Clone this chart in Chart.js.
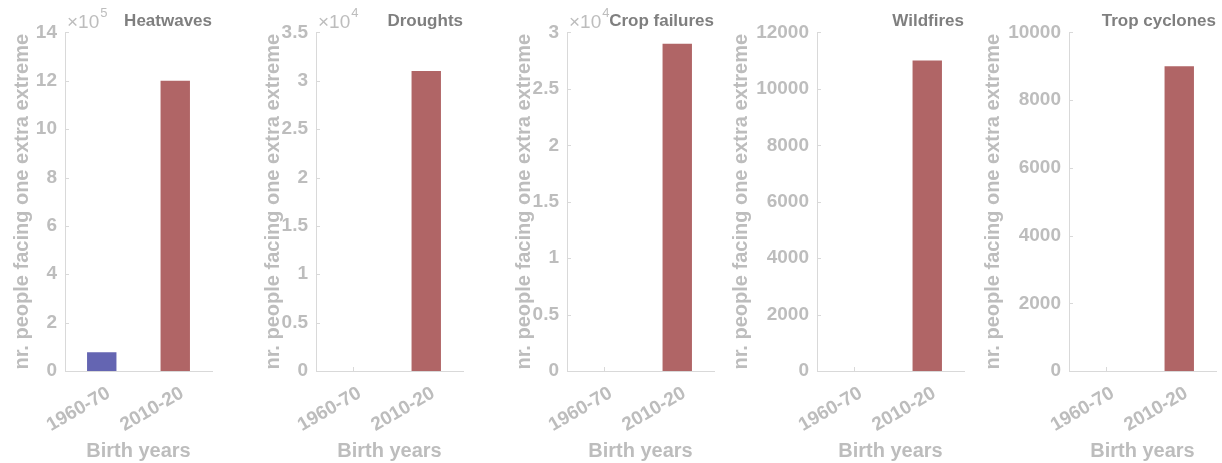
<!DOCTYPE html>
<html>
<head>
<meta charset="utf-8">
<title>Extra exposure to climate extremes by birth cohort</title>
<script src="https://cdn.jsdelivr.net/npm/chart.js@4.4.1/dist/chart.umd.min.js"></script>
<style>
  html, body { margin: 0; padding: 0; background: #ffffff; }
  #wrap { position: relative; width: 1222px; height: 463px; overflow: hidden; }
  #wrap canvas { position: absolute; top: 0; }
</style>
</head>
<body>
<div id="wrap"></div>
<script>
// Birth cohorts on the x axis
const categories = ['1960-70', '2010-20'];

// One panel per hazard
const hazards = ['Heatwaves', 'Droughts', 'Crop failures', 'Wildfires', 'Trop cyclones'];

// People facing one extra extreme, per cohort
const heatwaves    = [78000, 1200000];
const droughts     = [0, 31000];
const cropFailures = [0, 29000];
const wildfires    = [0, 11000];
const tropCyclones = [0, 9000];

// Y axis ranges, tick steps and the power of ten shown above each axis
const yMax      = [1400000, 35000, 30000, 12000, 10000];
const yStep     = [200000, 5000, 5000, 2000, 2000];
const exponents = [5, 4, 4, 0, 0];

const seriesByHazard = [heatwaves, droughts, cropFailures, wildfires, tropCyclones];

const FONT = "'Liberation Sans', Arial, Helvetica, sans-serif";
const LABEL_GREY = '#bdbdbd';
const TITLE_GREY = '#7f7f7f';
const AXIS_GREY = '#d9d9d9';
const COHORT_COLORS = ['#6465b2', '#b06566'];

// Page x of each panel's y axis, and how far left of it the axis title sits
const AXIS_X = [65, 316, 567, 817, 1069];
const Y_TITLE_GAP = [44, 44, 44, 77, 77];
const Y_BOX = 90;          // width reserved left of each plot for ticks and title
const PLOT_W = 147;
const RIGHT_PAD = 4;
const CANVAS_W = Y_BOX + PLOT_W + RIGHT_PAD;
const CANVAS_H = 463;

// Small inward tick marks (under the bars) plus the "x10^n" multiplier above the y axis
const axisDecor = {
  id: 'axisDecor',
  beforeDatasetsDraw(chart) {
    const ctx = chart.ctx;
    const y = chart.scales.y;
    const x = chart.scales.x;
    const area = chart.chartArea;
    ctx.save();
    ctx.strokeStyle = AXIS_GREY;
    ctx.lineWidth = 1;
    ctx.beginPath();
    y.ticks.forEach(t => {
      const py = Math.round(y.getPixelForValue(t.value)) + 0.5;
      ctx.moveTo(area.left, py);
      ctx.lineTo(area.left + 4, py);
    });
    x.ticks.forEach((t, i) => {
      const px = Math.round(x.getPixelForTick(i)) + 0.5;
      ctx.moveTo(px, area.bottom);
      ctx.lineTo(px, area.bottom - 4);
    });
    ctx.stroke();
    ctx.restore();
  },
  afterDraw(chart, args, opts) {
    if (!opts.exponent) return;
    const ctx = chart.ctx;
    const area = chart.chartArea;
    ctx.save();
    ctx.fillStyle = LABEL_GREY;
    ctx.textBaseline = 'alphabetic';
    ctx.textAlign = 'left';
    ctx.font = '19px ' + FONT;
    const base = '\u00d710';
    const bx = area.left + 2;
    ctx.fillText(base, bx, 28);
    const w = ctx.measureText(base).width;
    ctx.font = '13px ' + FONT;
    ctx.fillText(String(opts.exponent), bx + w + 1, 17);
    ctx.restore();
  }
};

function makePanel(i) {
  const canvas = document.createElement('canvas');
  canvas.width = CANVAS_W;
  canvas.height = CANVAS_H;
  canvas.style.left = (AXIS_X[i] - Y_BOX) + 'px';
  canvas.style.width = CANVAS_W + 'px';
  canvas.style.height = CANVAS_H + 'px';
  document.getElementById('wrap').appendChild(canvas);

  const exp = exponents[i];
  const scaleDiv = Math.pow(10, exp);
  const yTitleFont = 20;
  const yTitlePad = Y_BOX - Y_TITLE_GAP[i] - yTitleFont * 1.2 / 2 + 1;

  return new Chart(canvas, {
    type: 'bar',
    data: {
      labels: categories,
      datasets: [{
        data: seriesByHazard[i],
        backgroundColor: COHORT_COLORS,
        borderWidth: 0,
        categoryPercentage: 1.0,
        barPercentage: 0.4
      }]
    },
    options: {
      responsive: false,
      animation: false,
      devicePixelRatio: 1,
      layout: { padding: { left: 0, right: RIGHT_PAD, top: 0, bottom: 0 } },
      plugins: {
        legend: { display: false },
        tooltip: { enabled: false },
        title: {
          display: true,
          text: hazards[i],
          align: 'end',
          color: TITLE_GREY,
          font: { family: FONT, size: 17, weight: 'bold' },
          padding: { top: 11, bottom: 1 }
        },
        axisDecor: { exponent: exp }
      },
      scales: {
        x: {
          grid: { display: false, drawTicks: false },
          border: { display: true, color: AXIS_GREY, width: 1 },
          ticks: {
            color: LABEL_GREY,
            font: { family: FONT, size: 19, weight: 'bold' },
            minRotation: 30,
            maxRotation: 30,
            autoSkip: false,
            padding: 11,
            labelOffset: 7
          },
          title: {
            display: true,
            text: 'Birth years',
            color: LABEL_GREY,
            font: { family: FONT, size: 20, weight: 'bold' },
            padding: { top: 0, bottom: 0 }
          },
          afterFit(scale) { scale.height = 92; }
        },
        y: {
          min: 0,
          max: yMax[i],
          grid: { display: false, drawTicks: false },
          border: { display: true, color: AXIS_GREY, width: 1 },
          ticks: {
            stepSize: yStep[i],
            color: LABEL_GREY,
            font: { family: FONT, size: 19, weight: 'bold' },
            padding: 8,
            callback: v => String(+(v / scaleDiv).toFixed(3))
          },
          title: {
            display: true,
            text: 'nr. people facing one extra extreme',
            color: LABEL_GREY,
            font: { family: FONT, size: yTitleFont, weight: 'bold' },
            padding: { top: yTitlePad, bottom: 0 }
          },
          afterFit(scale) { scale.width = Y_BOX; }
        }
      }
    },
    plugins: [axisDecor]
  });
}

hazards.forEach((h, i) => makePanel(i));
</script>
</body>
</html>
